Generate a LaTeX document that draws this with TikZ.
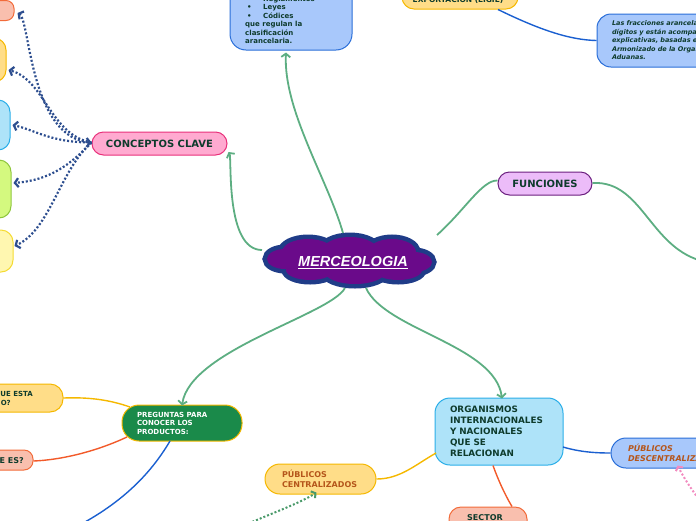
\documentclass[tikz,border=0pt]{standalone}
\usepackage{fontspec}
\setmainfont{DejaVu Sans}
\newfontfamily\libsans{Liberation Sans}
\usetikzlibrary{arrows.meta}
\definecolor{txt}{HTML}{0E3B2C}
\definecolor{salF}{HTML}{F9BFAE}\definecolor{salD}{HTML}{F26B3A}
\definecolor{oraF}{HTML}{FFDD88}\definecolor{oraD}{HTML}{F5B800}
\definecolor{lblF}{HTML}{AEE3F9}\definecolor{lblD}{HTML}{2AAEE8}
\definecolor{grnF}{HTML}{D4F97F}\definecolor{grnD}{HTML}{8FC63D}
\definecolor{ylwF}{HTML}{FFF7B0}\definecolor{ylwD}{HTML}{F5DB33}
\definecolor{pnkF}{HTML}{FFAAD0}\definecolor{pnkD}{HTML}{E8307A}
\definecolor{bluF}{HTML}{A8C8FB}\definecolor{bluD}{HTML}{2A6ED8}
\definecolor{purF}{HTML}{ECBCF9}\definecolor{purD}{HTML}{6B1F7F}
\definecolor{dgF}{HTML}{1A8A4A}
\definecolor{cloudF}{HTML}{6A0A8A}\definecolor{cloudD}{HTML}{1F3C88}
\definecolor{connG}{HTML}{5DAE82}
\definecolor{dotB}{HTML}{2D4E8F}
\definecolor{connY}{HTML}{F5B800}\definecolor{connR}{HTML}{F25A2A}\definecolor{connB}{HTML}{1A5FD0}
\definecolor{dotG}{HTML}{4A9A6A}\definecolor{dotP}{HTML}{F28CC0}
\definecolor{brn}{HTML}{B5561B}
\begin{document}
\begin{tikzpicture}[x=1pt,y=-1pt,
  bx/.style={draw, line width=1pt, inner sep=0pt, text=txt, font=\bfseries\fontsize{10}{12}\selectfont},
  small/.style={font=\bfseries\fontsize{7}{8.5}\selectfont},
  salmon/.style={fill=salF, draw=salD},
  orange/.style={fill=oraF, draw=oraD},
  lblue/.style={fill=lblF, draw=lblD},
  lgreen/.style={fill=grnF, draw=grnD},
  lyellow/.style={fill=ylwF, draw=ylwD},
  pink/.style={fill=pnkF, draw=pnkD},
  blue/.style={fill=bluF, draw=bluD},
  purple/.style={fill=purF, draw=purD},
  gline/.style={draw=connG, line width=1.8pt},
  gtip/.style={-{Straight Barb[length=3.5pt,width=9pt]}},
  dline/.style={draw=dotB, line width=2.2pt, dash pattern=on 2pt off 2pt},
  dtip/.style={-{Straight Barb[length=3.5pt,width=9pt]}},
  cline/.style={line width=1.4pt},
]
\useasboundingbox (0,0) rectangle (696,520);
\clip (0,0) rectangle (696,520);

% left column of partial nodes
\node[bx, salmon, rounded corners=8pt, minimum width=94pt, minimum height=20pt] (n1) at (-33,10.5) {};
\node[bx, orange, rounded corners=12pt, minimum width=86pt, minimum height=44pt] (n2) at (-37,60) {};
\node[bx, lblue, rounded corners=12pt, minimum width=90pt, minimum height=50pt] (n3) at (-35,125) {};
\node[bx, lgreen, rounded corners=12pt, minimum width=91pt, minimum height=58pt] (n4) at (-34.5,189) {};
\node[bx, lyellow, rounded corners=12pt, minimum width=93pt, minimum height=42pt] (n5) at (-33.5,251) {};

% CONCEPTOS CLAVE
\node[bx, pink, rounded corners=11.5pt, minimum width=135pt, minimum height=23pt] (cc) at (159.5,143.5) {CONCEPTOS CLAVE};

% dotted connectors
\path[dline, dtip] ([yshift=1pt]cc.west) .. controls (30,140) and (30,20) .. ([yshift=-2.5pt,xshift=3pt]n1.east);
\path[dline, dtip] ([yshift=1pt]cc.west) .. controls (50,135) and (45,80) .. ([yshift=-10pt,xshift=2pt]n2.east);
\path[dline, {Straight Barb[length=3.5pt,width=9pt]}-{Straight Barb[length=3.5pt,width=9pt]}] ([yshift=1pt]cc.west) .. controls (50,142) and (35,130) .. ([xshift=2pt]n3.east);
\path[dline, dtip] ([yshift=1pt]cc.west) .. controls (70,165) and (50,180) .. ([yshift=6pt,xshift=2pt]n4.east);
\path[dline, dtip] ([yshift=1pt]cc.west) .. controls (60,170) and (50,230) .. ([yshift=5pt,xshift=1pt]n5.east);

% top center box
\node[bx, blue, rounded corners=16pt, minimum width=122pt, minimum height=80pt] (tb) at (291,10) {};
\node[small, text=txt, align=left, anchor=north west, inner sep=0pt] (tbt) at (245,-4.5)
  {\makebox[18pt][l]{\hspace{2pt}•}Reglamentos\\
   \makebox[18pt][l]{\hspace{2pt}•}Leyes\\
   \makebox[18pt][l]{\hspace{2pt}•}Códices\\
   que regulan la\\ clasificación\\ arancelaria.};

% LIGIE box
\node[bx, orange, rounded corners=12pt, minimum width=116pt, minimum height=34pt] (lg) at (460,-8) {};
\node[small, text=txt, anchor=base, inner sep=0pt, font=\bfseries\fontsize{7.5}{9}\selectfont] (lgt) at (458,2.5) {EXPORTACIÓN (LIGIE)};

% italic note box
\node[bx, blue, rounded corners=14pt, minimum height=53pt, text width=260pt, inner xsep=15pt, align=left,
      font=\bfseries\itshape\fontsize{6.5}{8.5}\selectfont] (nt) at (742,40.5)
  {Las fracciones arancelarias se integran por 8\\
   dígitos y están acompañadas de notas\\
   explicativas, basadas en el Sistema\\
   Armonizado de la Organización Mundial de\\
   Aduanas.};
\draw[draw=connB, cline] ([xshift=38pt]lg.south) .. controls (540,30) and (570,40) .. (nt.west);

% central cloud (union of puffs: thick dark outline, purple fill over it)
\foreach \cx/\cy/\rx/\ry in {285/259/18/10, 308/252/26/13, 350/251/28/14, 392/252/24/13, 414/262/18/10,
                             310/270/24/10, 355/272/30/12, 398/270/24/10, 350/261/62/16}
  \path[draw=cloudD, line width=9pt] (\cx,\cy) ellipse [x radius=\rx, y radius=\ry];
\foreach \cx/\cy/\rx/\ry in {285/259/18/10, 308/252/26/13, 350/251/28/14, 392/252/24/13, 414/262/18/10,
                             310/270/24/10, 355/272/30/12, 398/270/24/10, 350/261/62/16}
  \path[fill=cloudF] (\cx,\cy) ellipse [x radius=\rx, y radius=\ry];
\node[text=white, inner sep=0pt, font=\libsans\bfseries\itshape\fontsize{14.5}{16}\selectfont] (m) at (353,263) {\underline{MERCEOLOGIA}};

% FUNCIONES
\node[bx, purple, rounded corners=11.5pt, minimum width=94pt, minimum height=23pt] (fn) at (545,183.5) {FUNCIONES};
\coordinate (fnout) at (712,263);

% green connectors from cloud
\path[gline, gtip] ([shift={(-91,-13)}]m.center) .. controls (225,250) and (232,158) .. ([yshift=-8.5pt,xshift=1pt]cc.east);
\path[gline, gtip] ([shift={(-10,-30)}]m.center) .. controls (328,180) and (283,110) .. ([xshift=-5pt,yshift=-2pt]tb.south);
\path[gline] ([shift={(84,-28)}]m.center) .. controls (465,210) and (482,180) .. ([yshift=3pt]fn.west);
\path[gline] ([yshift=0.5pt]fn.east) .. controls (645,180) and (650,255) .. (fnout);

% PREGUNTAS
\node[bx, fill=dgF, draw=oraD, rounded corners=17pt, minimum width=120pt, minimum height=36pt,
      text width=90pt, inner xsep=15pt, align=left, text=white, font=\bfseries\fontsize{7}{8.5}\selectfont] (pq) at (182,423)
  {PREGUNTAS PARA\\ CONOCER LOS\\ PRODUCTOS:};
\path[gline, gtip] ([shift={(-8,25)}]m.center) .. controls (330,315) and (190,350) .. ([yshift=-1pt]pq.north);

\node[bx, orange, rounded corners=13pt, minimum width=123pt, minimum height=28pt] (q1) at (1.5,398) {};
\node[small, text=txt, anchor=base east, inner sep=0pt] (q1a) at (33,396.5) {¿DE QUE ESTA};
\node[small, text=txt, anchor=base east, inner sep=0pt] (q1b) at (11,405.5) {HECHO?};
\node[bx, salmon, rounded corners=9pt, minimum width=93pt, minimum height=20pt] (q2) at (-13.5,460) {};
\node[small, text=txt, anchor=base east, inner sep=0pt, font=\bfseries\fontsize{8}{9}\selectfont] (q2a) at (24,463.5) {¿QUE ES?};
\coordinate (pqout) at (70,530);

\draw[draw=connY, cline] ([shift={(-52,-16)}]pq.center) .. controls (110,400) and (90,397) .. (q1.east);
\draw[draw=connR, cline] ([shift={(-55,14)}]pq.center) .. controls (95,452) and (60,460) .. ([yshift=-1pt]q2.east);
\draw[draw=connB, cline] ([shift={(-12,18)}]pq.center) .. controls (150,475) and (120,505) .. (pqout);

% ORGANISMOS
\node[bx, lblue, rounded corners=15pt, minimum width=128pt, minimum height=67pt, text width=98pt, inner xsep=15pt,
      align=left, font=\bfseries\fontsize{8.8}{11}\selectfont] (og) at (499,431.5)
  {ORGANISMOS\\ INTERNACIONALES\\ Y NACIONALES\\ QUE SE\\ RELACIONAN};
\path[gline, gtip] ([shift={(13,25)}]m.center) .. controls (385,330) and (495,345) .. ([xshift=3pt,yshift=-1pt]og.north);

\node[bx, orange, rounded corners=15pt, minimum width=111pt, minimum height=30pt, text width=77pt, inner xsep=17pt,
      align=left, text=brn, font=\bfseries\fontsize{8}{10}\selectfont] (pc) at (320.5,479)
  {PÚBLICOS\\ CENTRALIZADOS};
\node[bx, blue, rounded corners=15pt, minimum width=189pt, minimum height=30pt, text width=155pt, inner xsep=17pt,
      align=left, text=brn, font=\bfseries\itshape\fontsize{8}{10}\selectfont] (pd) at (705.5,453)
  {PÚBLICOS\\ DESCENTRALIZADOS};
\node[bx, salmon, rounded corners=12pt, minimum width=78pt, minimum height=33pt] (sc) at (488,523.5) {};
\node[small, text=txt, anchor=west, inner sep=0pt, font=\bfseries\fontsize{8}{10}\selectfont] (sct) at (467,518) {SECTOR};

\draw[draw=connY, cline] ([shift={(-63,21.5)}]og.center) .. controls (415,465) and (400,479) .. (pc.east);
\draw[draw=connB, cline] ([shift={(64,15.5)}]og.center) .. controls (580,452) and (595,453) .. (pd.west);
\draw[draw=connR, cline] ([xshift=-6pt]og.south) .. controls (500,485) and (508,500) .. ([xshift=24pt]sc.north);

\coordinate (gdot) at (245,525);
\coordinate (pdot) at (706,508);
\path[draw=dotG, line width=2pt, dash pattern=on 2pt off 2pt, -{Straight Barb[length=3pt,width=8pt]}] (gdot) .. controls (275,512) and (300,503) .. ([xshift=-4pt,yshift=2pt]pc.south);
\path[draw=dotP, line width=2pt, dash pattern=on 2pt off 2pt, -{Straight Barb[length=3pt,width=8pt]}] (pdot) .. controls (695,495) and (685,480) .. ([xshift=-28pt,yshift=3pt]pd.south);
\end{tikzpicture}
\end{document}
